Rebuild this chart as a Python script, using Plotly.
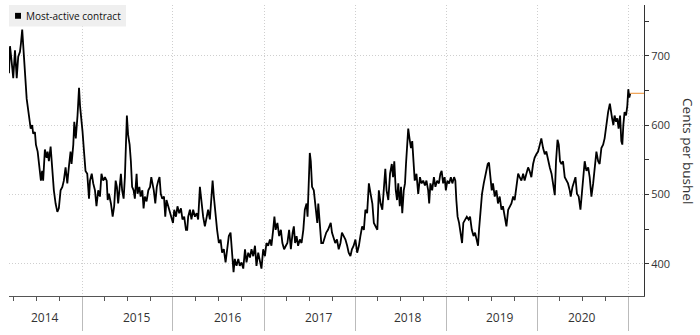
import plotly.graph_objects as go

# ---- data: most-active CBOT wheat contract, cents per bushel ----
d2014 = ["2014-03-14","2014-03-18","2014-03-24","2014-03-31","2014-04-07","2014-04-14","2014-04-20","2014-04-27",
         "2014-05-01","2014-05-06","2014-05-13","2014-05-17","2014-05-24","2014-06-02","2014-06-09","2014-06-15",
         "2014-06-19","2014-06-26","2014-06-30","2014-07-07","2014-07-12","2014-07-16","2014-07-20","2014-07-25",
         "2014-07-29","2014-08-05","2014-08-12","2014-08-16","2014-08-21","2014-08-28","2014-09-04","2014-09-10",
         "2014-09-17","2014-09-24","2014-09-30","2014-10-07","2014-10-14","2014-10-20","2014-10-27","2014-11-03",
         "2014-11-09","2014-11-16","2014-11-20","2014-11-27","2014-12-01","2014-12-07","2014-12-14","2014-12-20",
         "2014-12-24","2014-12-30"]
v2014 = [675,714,694,668,708,668,699,706,
         718,738,699,675,638,614,595,600,
         588,590,572,562,548,530,520,534,
         520,565,553,562,548,569,534,506,
         487,475,480,506,511,520,539,516,
         539,562,544,572,605,581,614,654,
         628,610]

d2015 = ["2015-01-03","2015-01-09","2015-01-15","2015-01-22","2015-01-29","2015-02-02","2015-02-09","2015-02-15",
         "2015-02-22","2015-02-28","2015-03-07","2015-03-14","2015-03-20","2015-03-27","2015-04-03","2015-04-10",
         "2015-04-14","2015-04-19","2015-04-27","2015-05-04","2015-05-10","2015-05-16","2015-05-21","2015-05-26",
         "2015-06-01","2015-06-06","2015-06-11","2015-06-17","2015-06-22","2015-06-26","2015-06-30","2015-07-05",
         "2015-07-11","2015-07-16","2015-07-21","2015-07-27","2015-08-01","2015-08-08","2015-08-12","2015-08-19",
         "2015-08-24","2015-08-31","2015-09-05","2015-09-10","2015-09-17","2015-09-24","2015-10-01","2015-10-06",
         "2015-10-11","2015-10-16","2015-10-22","2015-10-28","2015-11-03","2015-11-08","2015-11-13","2015-11-19",
         "2015-11-26","2015-12-01","2015-12-06","2015-12-13","2015-12-20","2015-12-26"]
v2015 = [591,562,534,530,494,520,530,516,
         506,483,506,497,530,520,525,520,
         492,501,487,468,483,520,511,487,
         516,530,506,494,525,572,614,586,
         572,548,511,506,494,530,501,511,
         497,506,480,497,490,506,511,525,
         516,506,487,511,520,525,501,494,
         497,468,492,483,478,468]

d2016 = ["2016-01-01","2016-01-06","2016-01-13","2016-01-19","2016-01-26","2016-02-02","2016-02-08","2016-02-15",
         "2016-02-22","2016-02-27","2016-03-02","2016-03-09","2016-03-15","2016-03-22","2016-03-29","2016-04-05",
         "2016-04-11","2016-04-18","2016-04-25","2016-05-01","2016-05-08","2016-05-15","2016-05-21","2016-05-28",
         "2016-06-04","2016-06-08","2016-06-13","2016-06-20","2016-06-26","2016-07-03","2016-07-10","2016-07-16",
         "2016-07-23","2016-07-30","2016-08-05","2016-08-12","2016-08-19","2016-08-26","2016-08-31","2016-09-05",
         "2016-09-12","2016-09-19","2016-09-25","2016-10-02","2016-10-09","2016-10-16","2016-10-22","2016-10-29",
         "2016-11-05","2016-11-11","2016-11-18","2016-11-25","2016-12-01","2016-12-08","2016-12-15","2016-12-21",
         "2016-12-28"]
v2016 = [459,478,468,483,473,480,464,468,
         449,449,468,478,464,478,468,473,
         464,511,487,468,454,468,478,464,
         512,520,497,468,449,430,435,416,
         421,402,421,440,445,411,388,407,
         397,407,397,402,393,421,402,416,
         409,421,411,426,397,416,402,393,
         421]

d2017 = ["2017-01-04","2017-01-10","2017-01-17","2017-01-24","2017-01-30","2017-02-06","2017-02-11","2017-02-16",
         "2017-02-23","2017-03-02","2017-03-09","2017-03-15","2017-03-22","2017-03-29","2017-04-04","2017-04-11",
         "2017-04-18","2017-04-25","2017-04-30","2017-05-05","2017-05-11","2017-05-17","2017-05-24","2017-05-31",
         "2017-06-07","2017-06-13","2017-06-20","2017-06-24","2017-06-29","2017-07-03","2017-07-07","2017-07-12",
         "2017-07-19","2017-07-24","2017-07-29","2017-08-02","2017-08-06","2017-08-11","2017-08-18","2017-08-25",
         "2017-09-01","2017-09-07","2017-09-14","2017-09-21","2017-09-25","2017-09-30","2017-10-07","2017-10-13",
         "2017-10-20","2017-10-27","2017-11-03","2017-11-09","2017-11-16","2017-11-23","2017-11-30","2017-12-06",
         "2017-12-13","2017-12-19","2017-12-26"]
v2017 = [411,430,426,435,426,449,468,449,
         459,440,449,430,421,426,430,449,
         421,445,454,430,440,426,435,430,
         449,478,487,468,534,560,548,511,
         506,487,468,459,487,460,430,430,
         440,445,449,454,459,445,435,430,
         435,421,430,445,440,435,426,416,
         411,421,426]

d2018 = ["2018-01-02","2018-01-09","2018-01-16","2018-01-22","2018-01-29","2018-02-05","2018-02-11","2018-02-18",
         "2018-02-25","2018-03-04","2018-03-11","2018-03-17","2018-03-24","2018-03-31","2018-04-06","2018-04-13",
         "2018-04-20","2018-04-27","2018-05-02","2018-05-07","2018-05-14","2018-05-21","2018-05-28","2018-06-02",
         "2018-06-07","2018-06-13","2018-06-18","2018-06-23","2018-06-29","2018-07-04","2018-07-09","2018-07-15",
         "2018-07-20","2018-07-24","2018-07-29","2018-08-02","2018-08-07","2018-08-13","2018-08-18","2018-08-23",
         "2018-08-28","2018-09-04","2018-09-11","2018-09-18","2018-09-24","2018-10-01","2018-10-08","2018-10-14",
         "2018-10-21","2018-10-25","2018-10-30","2018-11-06","2018-11-13","2018-11-19","2018-11-26","2018-12-03",
         "2018-12-09","2018-12-14","2018-12-20","2018-12-26","2018-12-31"]
v2018 = [435,416,426,440,454,449,478,473,
         516,501,487,459,454,449,506,487,
         478,506,537,506,492,530,544,525,
         548,506,492,516,483,511,473,506,
         516,544,572,595,581,567,577,548,
         520,530,501,525,516,520,513,520,
         506,487,516,506,525,511,520,516,
         530,534,516,525,506]

d2019 = ["2019-01-06","2019-01-13","2019-01-20","2019-01-26","2019-02-02","2019-02-07","2019-02-11","2019-02-16",
         "2019-02-22","2019-02-27","2019-03-06","2019-03-11","2019-03-18","2019-03-25","2019-04-01","2019-04-07",
         "2019-04-14","2019-04-21","2019-04-27","2019-05-04","2019-05-09","2019-05-13","2019-05-19","2019-05-25",
         "2019-06-01","2019-06-06","2019-06-11","2019-06-17","2019-06-22","2019-06-27","2019-07-03","2019-07-08",
         "2019-07-15","2019-07-22","2019-07-28","2019-08-04","2019-08-11","2019-08-17","2019-08-24","2019-08-31",
         "2019-09-07","2019-09-13","2019-09-20","2019-09-27","2019-10-03","2019-10-10","2019-10-17","2019-10-23",
         "2019-10-30","2019-11-06","2019-11-12","2019-11-19","2019-11-26","2019-12-02","2019-12-09","2019-12-16",
         "2019-12-22","2019-12-29"]
v2019 = [520,516,525,516,525,520,492,468,
         459,449,430,459,464,468,464,468,
         449,440,445,435,426,449,478,501,
         516,525,534,544,546,525,506,516,
         497,506,487,497,478,483,468,454,
         478,483,487,497,492,511,530,525,
         520,530,520,530,539,534,525,544,
         553,558]

d2020 = ["2020-01-05","2020-01-12","2020-01-18","2020-01-25","2020-02-01","2020-02-07","2020-02-14","2020-02-21",
         "2020-02-28","2020-03-05","2020-03-12","2020-03-17","2020-03-23","2020-03-28","2020-04-02","2020-04-08",
         "2020-04-14","2020-04-21","2020-04-28","2020-05-04","2020-05-11","2020-05-15","2020-05-22","2020-05-29",
         "2020-06-03","2020-06-09","2020-06-16","2020-06-23","2020-06-30","2020-07-06","2020-07-10","2020-07-17",
         "2020-07-24","2020-07-30","2020-08-06","2020-08-13","2020-08-19","2020-08-26","2020-09-02","2020-09-08",
         "2020-09-15","2020-09-22","2020-09-28","2020-10-05","2020-10-12","2020-10-19","2020-10-23","2020-10-28",
         "2020-11-02","2020-11-07","2020-11-13","2020-11-18","2020-11-23","2020-11-29","2020-12-04","2020-12-08",
         "2020-12-12","2020-12-17","2020-12-23","2020-12-28","2021-01-01","2021-01-05","2021-01-09"]
v2020 = [562,572,581,567,558,562,548,539,
         530,516,499,548,579,572,548,544,
         548,525,520,516,506,497,511,520,
         525,501,497,478,511,534,548,534,
         539,525,497,516,534,562,548,544,
         567,572,581,605,619,631,624,610,
         600,614,605,610,595,614,577,572,
         600,619,614,628,652,640,646]

years = ["2014", "2015", "2016", "2017", "2018", "2019", "2020"]
y_ticks = [400, 500, 600, 700]
series_name = "Most-active contract"
y_title = "Cents per bushel"

dates = d2014 + d2015 + d2016 + d2017 + d2018 + d2019 + d2020
cents = v2014 + v2015 + v2016 + v2017 + v2018 + v2019 + v2020

# ---- layout constants ----
X_RANGE = ["2014-03-14", "2021-03-05"]
Y_RANGE = [353.5, 773.5]
YEAR_LABEL_AT = ["2014-08-07", "2015-08-09", "2016-08-07", "2017-08-09",
                 "2018-08-01", "2019-08-04", "2020-06-29"]
FONT = "Open Sans, Liberation Sans, Arial, sans-serif"
TXT = "#333333"
GRID = "#cfcfcf"
GRID_DASH = "1px,2px"

fig = go.Figure()
fig.add_trace(go.Scatter(x=dates, y=cents, mode="lines", name=series_name,
                         line=dict(color="#000000", width=1.8), showlegend=False,
                         hoverinfo="x+y"))

# last-price marker line
fig.add_shape(type="line", xref="x", yref="y", x0=dates[-1], x1=X_RANGE[1],
              y0=cents[-1], y1=cents[-1], line=dict(color="#f0a050", width=1.2))

# legend box
fig.add_shape(type="rect", xref="paper", yref="paper", x0=0, x1=0.1843, y0=0.9257, y1=1.0,
              fillcolor="#efefef", line=dict(width=0), layer="above")
fig.add_shape(type="rect", xref="paper", yref="paper", x0=0.0095, x1=0.0189, y0=0.9527, y1=0.9730,
              fillcolor="#000000", line=dict(width=0), layer="above")
fig.add_annotation(text=series_name, xref="paper", yref="paper", x=0.0236, y=0.9628,
                   xanchor="left", yanchor="middle", showarrow=False,
                   font=dict(family=FONT, size=10, color="#111111"))

# year labels
for yr, at in zip(years, YEAR_LABEL_AT):
    fig.add_annotation(text=yr, x=at, xref="x", yref="paper", y=-0.0743,
                       xanchor="center", yanchor="middle", showarrow=False,
                       font=dict(family=FONT, size=12, color=TXT))

# right axis title, reading top-to-bottom
fig.add_annotation(text=y_title, xref="paper", yref="paper", x=1.0693, y=0.498,
                   xanchor="center", yanchor="middle", textangle=90, showarrow=False,
                   font=dict(family=FONT, size=13.5, color=TXT))

fig.update_xaxes(type="date", range=X_RANGE, showline=True, linecolor="#555555", linewidth=1,
                 tick0="2014-01-01", dtick="M12", ticks="outside", ticklen=34,
                 tickcolor="#bbbbbb", tickwidth=1, showticklabels=False,
                 showgrid=True, gridcolor=GRID, griddash=GRID_DASH, gridwidth=1,
                 minor=dict(dtick="M3", tick0="2014-01-01", ticks="outside", ticklen=4,
                            tickcolor="#555555", showgrid=False),
                 zeroline=False, fixedrange=True)

fig.update_yaxes(side="right", range=Y_RANGE, tickvals=y_ticks, ticks="outside", ticklen=4,
                 tickcolor="#333333", showline=True, linecolor="#333333", linewidth=1,
                 showgrid=True, gridcolor=GRID, griddash=GRID_DASH, gridwidth=1,
                 minor=dict(dtick=50, tick0=0, ticks="outside", ticklen=4, tickcolor="#333333",
                            showgrid=False),
                 tickfont=dict(family=FONT, size=11, color=TXT),
                 zeroline=False, fixedrange=True)

fig.update_layout(width=700, height=335, margin=dict(l=9, r=56, t=5, b=34),
                  paper_bgcolor="white", plot_bgcolor="white",
                  font=dict(family=FONT, color=TXT), showlegend=False)

fig.write_html("out.html")
